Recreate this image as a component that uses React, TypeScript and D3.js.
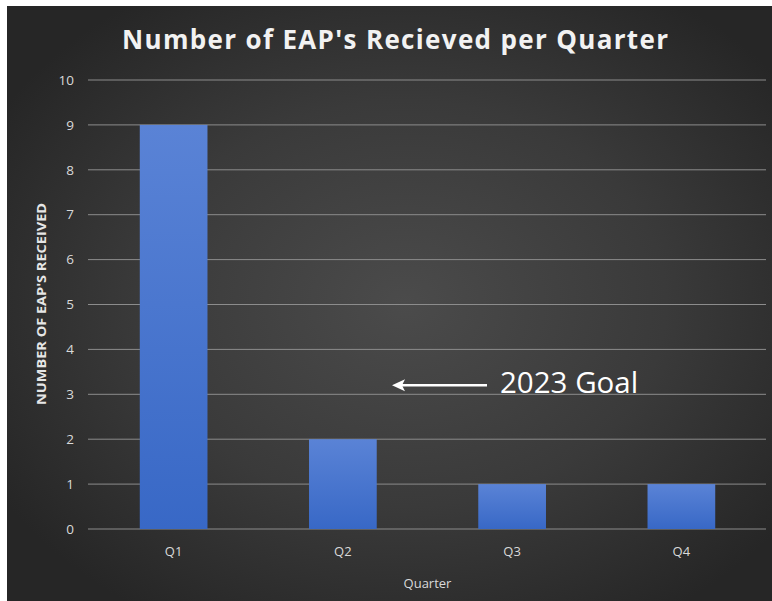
import React from "react";
import * as d3 from "d3";

const categories = ["Q1", "Q2", "Q3", "Q4"];
const values = [9, 2, 1, 1];
const yTicks = [0, 1, 2, 3, 4, 5, 6, 7, 8, 9, 10];
const title = "Number of EAP's Recieved per Quarter";
const yTitle = "NUMBER OF EAP'S RECEIVED";
const xTitle = "Quarter";
const annotation = "2023 Goal";
const annotationValue = 3.2;

const W = 772;
const H = 601;
const plot = { left: 89, right: 766, top: 80, bottom: 529 };

export default function App() {
  const x = d3
    .scaleBand<string>()
    .domain(categories)
    .range([plot.left, plot.right])
    .paddingInner(0.6)
    .paddingOuter(0.3);
  const y = d3.scaleLinear().domain([0, 10]).range([plot.bottom, plot.top]);
  const font = "'Open Sans', 'Noto Sans', sans-serif";
  const ay = y(annotationValue);

  return (
    <svg
      width={W}
      height={H}
      style={{ position: "absolute", left: 0, top: 0, display: "block" }}
    >
      <defs>
        <radialGradient id="bg" cx="0.52" cy="0.5" r="0.62">
          <stop offset="0" stopColor="#4b4b4b" />
          <stop offset="0.55" stopColor="#3a3a3a" />
          <stop offset="1" stopColor="#262626" />
        </radialGradient>
        <linearGradient id="bar" x1="0" y1="0" x2="0" y2="1">
          <stop offset="0" stopColor="#5a83d6" />
          <stop offset="1" stopColor="#3868c6" />
        </linearGradient>
      </defs>
      <rect x={0} y={0} width={W} height={H} fill="#ffffff" />
      <rect x={7} y={6} width={W - 7} height={H - 6} fill="url(#bg)" />

      {yTicks.map((t) => (
        <g key={t}>
          <line
            x1={plot.left - 1}
            x2={plot.right}
            y1={y(t)}
            y2={y(t)}
            stroke="#8c8c8c"
            strokeWidth={1}
          />
          <text
            x={74}
            y={y(t)}
            dy="0.35em"
            textAnchor="end"
            fontFamily={font}
            fontSize={13.5}
            fill="#d9d9d9"
          >
            {t}
          </text>
        </g>
      ))}

      {categories.map((c, i) => (
        <rect
          key={c}
          x={x(c)}
          y={y(values[i])}
          width={x.bandwidth()}
          height={y(0) - y(values[i])}
          fill="url(#bar)"
        />
      ))}

      {categories.map((c) => (
        <text
          key={c}
          x={(x(c) as number) + x.bandwidth() / 2}
          y={556}
          textAnchor="middle"
          fontFamily={font}
          fontSize={13}
          fill="#d9d9d9"
        >
          {c}
        </text>
      ))}

      <text
        x={(plot.left + plot.right) / 2}
        y={588}
        textAnchor="middle"
        fontFamily={font}
        fontSize={13}
        fill="#d9d9d9"
      >
        {xTitle}
      </text>

      <text
        transform={`translate(46, ${304}) rotate(-90)`}
        textAnchor="middle"
        fontFamily={font}
        fontSize={12}
        fontWeight="bold"
        fill="#e6e6e6"
        textLength={202}
        lengthAdjust="spacingAndGlyphs"
      >
        {yTitle}
      </text>

      <text
        x={395}
        y={49}
        textAnchor="middle"
        fontFamily={font}
        fontSize={26}
        fontWeight="bold"
        fill="#f2f2f2"
        textLength={546}
        lengthAdjust="spacing"
      >
        {title}
      </text>

      <line
        x1={400}
        x2={487}
        y1={ay}
        y2={ay}
        stroke="#ffffff"
        strokeWidth={2.5}
      />
      <path
        d={`M392,${ay} L405,${ay - 6} L402,${ay} L405,${ay + 6} Z`}
        fill="#ffffff"
      />
      <text
        x={500}
        y={393}
        fontFamily={font}
        fontSize={29.5}
        fill="#ffffff"
      >
        {annotation}
      </text>
    </svg>
  );
}
